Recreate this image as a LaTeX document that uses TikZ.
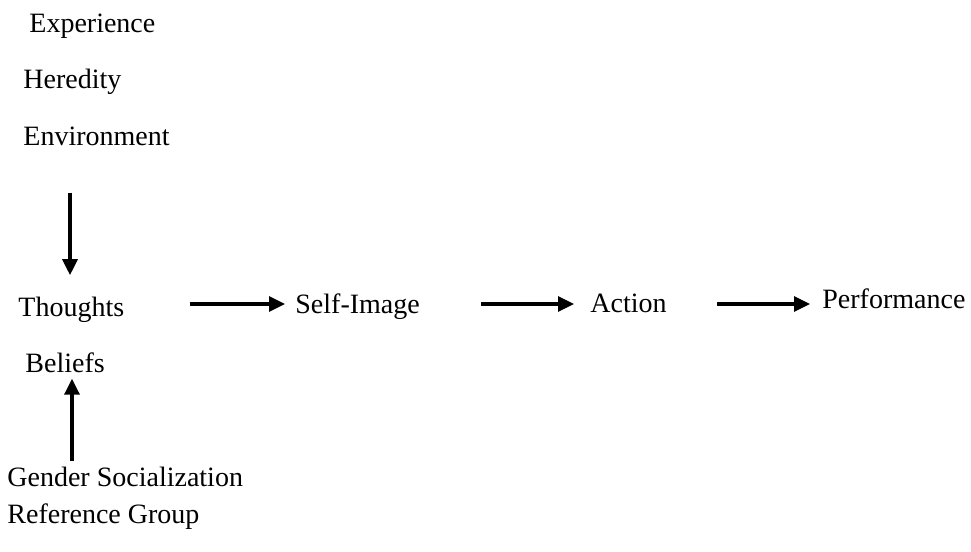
\documentclass[tikz,border=0pt]{standalone}
\usepackage{fontspec}
\setmainfont{Liberation Serif}
\usepackage{tikz}
\usetikzlibrary{arrows.meta}

\begin{document}
\begin{tikzpicture}[x=0.5pt, y=-0.5pt,
  lbl/.style={anchor=base west, inner sep=0pt, font=\fontsize{14}{16}\selectfont},
  arr/.style={-{Triangle[length=8pt, width=7.5pt]}, line width=1.6pt}]
  \useasboundingbox (0,0) rectangle (971,552);

  % Upper influences
  \node[lbl] (exp) at (29,32) {Experience};
  \node[lbl] (hered) at (23,88) {Heredity};
  \node[lbl] (env) at (23,145) {Environment};

  % Main chain
  \node[lbl] (thoughts) at (18,316) {Thoughts};
  \node[lbl] (selfimg) at (295,313) {Self-Image};
  \node[lbl] (action) at (590,312) {Action};
  \node[lbl] (perf) at (822,308) {Performance};

  % Lower influences
  \node[lbl] (beliefs) at (25,372) {Beliefs};
  \node[lbl] (gender) at (7,486) {Gender Socialization};
  \node[lbl] (refgroup) at (7,523) {Reference Group};

  % Arrows
  \coordinate (downx) at (70,0);
  \coordinate (upx) at (72,0);
  \coordinate (rowy) at (0,304);
  \draw[arr, shorten <=23.5pt, shorten >=10.5pt] (env.south -| downx) -- (thoughts.north -| downx);
  \draw[arr, shorten <=2.5pt, shorten >=3pt] (gender.north -| upx) -- (beliefs.south -| upx);
  \draw[arr, shorten <=32.5pt, shorten >=5pt] (thoughts.east |- rowy) -- (selfimg.west |- rowy);
  \draw[arr, shorten <=30.5pt, shorten >=8pt] (selfimg.east |- rowy) -- (action.west |- rowy);
  \draw[arr, shorten <=25pt, shorten >=6pt] (action.east |- rowy) -- (perf.west |- rowy);
\end{tikzpicture}
\end{document}
